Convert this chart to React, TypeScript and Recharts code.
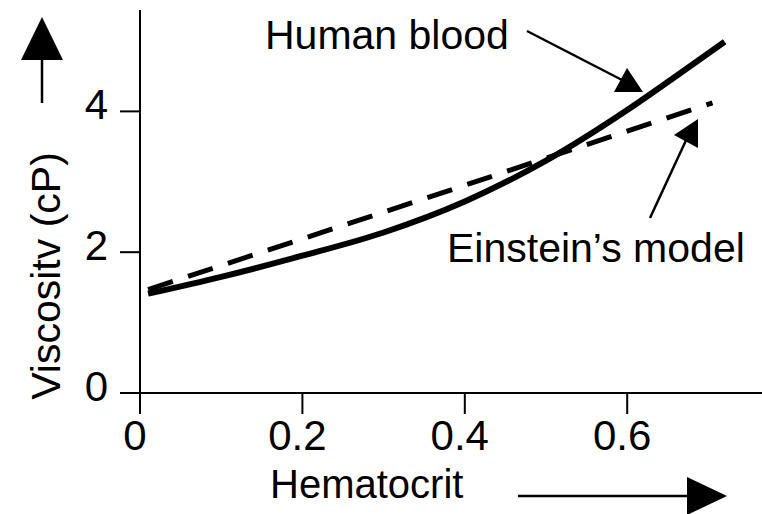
import { LineChart, Line, XAxis, YAxis } from 'recharts'

// hematocrit fraction vs viscosity (cP)
const bloodHct = [0.01, 0.1, 0.2, 0.3, 0.4, 0.5, 0.6, 0.66, 0.72]
const bloodVisc = [1.41, 1.65, 1.95, 2.28, 2.72, 3.3, 4.02, 4.5, 4.99]

const einsteinHct = [0.01, 0.2, 0.4, 0.6, 0.705]
const einsteinVisc = [1.47, 2.19, 2.95, 3.72, 4.12]

const xTicks = [0, 0.2, 0.4, 0.6]
const yTicks = [0, 2, 4]

const humanBlood = bloodHct.map((h, i) => ({ hct: h, visc: bloodVisc[i] }))
const einstein = einsteinHct.map((h, i) => ({ hct: h, visc: einsteinVisc[i] }))

const FONT = '"Liberation Sans", Arial, sans-serif'
const INK = '#000'

const YTick = ({ x, y, payload }: any) => (
  <text x={x} y={y + 8} textAnchor="end" fontSize={42} fontFamily={FONT} fill={INK}>
    {payload.value}
  </text>
)

const XTick = ({ x, y, payload }: any) => (
  <text x={x - 5} y={y + 34} textAnchor="middle" fontSize={42} fontFamily={FONT} fill={INK}>
    {payload.value}
  </text>
)

export default function App() {
  return (
    <div style={{ position: 'absolute', left: 0, top: 0, width: 762, height: 514, background: '#fff' }}>
      <LineChart width={762} height={514} margin={{ top: 10, right: 0, bottom: 0, left: 0 }}>
        <XAxis
          dataKey="hct"
          type="number"
          domain={[0, 0.766]}
          ticks={xTicks}
          tick={<XTick />}
          tickSize={21}
          tickMargin={2}
          height={121}
          axisLine={{ stroke: INK, strokeWidth: 2 }}
          tickLine={{ stroke: INK, strokeWidth: 2 }}
          allowDuplicatedCategory={false}
        />
        <YAxis
          dataKey="visc"
          type="number"
          domain={[0, 5.44]}
          ticks={yTicks}
          tick={<YTick />}
          tickSize={20}
          tickMargin={12}
          width={140}
          axisLine={{ stroke: INK, strokeWidth: 2 }}
          tickLine={{ stroke: INK, strokeWidth: 2 }}
        />
        <Line
          data={einstein}
          dataKey="visc"
          type="monotone"
          stroke={INK}
          strokeWidth={5}
          strokeDasharray="26 16"
          dot={false}
          isAnimationActive={false}
        />
        <Line
          data={humanBlood}
          dataKey="visc"
          type="monotone"
          stroke={INK}
          strokeWidth={6}
          dot={false}
          isAnimationActive={false}
        />
      </LineChart>

      {/* labels and arrows drawn over the chart */}
      <svg width={762} height={514} style={{ position: 'absolute', left: 0, top: 0, pointerEvents: 'none' }}>
        <g fontFamily={FONT} fontSize={41} fill={INK}>
          <text x={265} y={49}>Human blood</text>
          <text x={447} y={262}>Einstein’s model</text>
          <text x={270} y={498} fontSize={40}>Hematocrit</text>
          <text transform="translate(60,276) rotate(-90)" textAnchor="middle">Viscositv (cP)</text>
        </g>
        <g stroke={INK} strokeWidth={2.5}>
          <line x1={42} y1={103} x2={42} y2={58} />
          <line x1={518} y1={496} x2={689} y2={496} />
          <line x1={527} y1={31} x2={622} y2={80} />
          <line x1={650} y1={218} x2={688} y2={136} />
        </g>
        <g fill={INK}>
          <polygon points="42,17 21,60 63,60" />
          <polygon points="727,496 687,477 687,515" />
          <polygon points="643,92 627,68 614,92" />
          <polygon points="698,119 674,135 698,148" />
        </g>
      </svg>
    </div>
  )
}
